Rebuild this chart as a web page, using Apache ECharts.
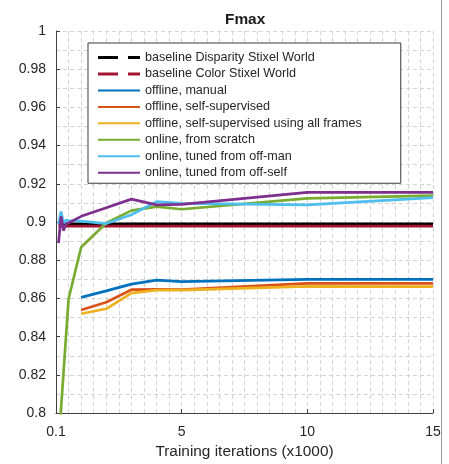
<!DOCTYPE html>
<html>
<head>
<meta charset="utf-8">
<script src="https://cdn.jsdelivr.net/npm/echarts@6/dist/echarts.min.js"></script>
<style>
html,body{margin:0;padding:0;background:#fff;}
#c{width:449px;height:464px;}
</style>
</head>
<body>
<div id="c"></div>
<script>
// ---- data ----
const seriesNames = [
  'baseline Disparity Stixel World',
  'baseline Color Stixel World',
  'offline, manual',
  'offline, self-supervised',
  'offline, self-supervised using all frames',
  'online, from scratch',
  'online, tuned from off-man',
  'online, tuned from off-self'
];
const baselineX = [0.1, 15];
const baselineDisparity = [0.8991, 0.8991];
const baselineColor = [0.8979, 0.8979];

const offlineX = [1, 2, 3, 4, 5, 10, 15];
const offlineManual = [0.8606, 0.8640, 0.8675, 0.8696, 0.8688, 0.8700, 0.8700];
const offlineSelf = [0.8540, 0.8580, 0.8646, 0.8648, 0.8646, 0.8679, 0.8679];
const offlineSelfAll = [0.8520, 0.8546, 0.8628, 0.8644, 0.8644, 0.8663, 0.8662];

const scratchX = [0.1, 0.5, 1, 2, 3, 4, 5, 10, 15];
const onlineScratch = [0.7830, 0.8597, 0.8868, 0.8995, 0.9060, 0.9081, 0.9067, 0.9124, 0.9138];

const tunedX = [0.1, 0.2, 0.3, 0.4, 0.5, 1, 2, 3, 4, 5, 10, 15];
const onlineOffMan = [0.8990, 0.9055, 0.8995, 0.9010, 0.9008, 0.9005, 0.8992, 0.9038, 0.9107, 0.9098, 0.9090, 0.9128];
const onlineOffSelf = [0.8890, 0.9030, 0.8955, 0.8990, 0.8995, 0.9030, 0.9075, 0.9120, 0.9090, 0.9093, 0.9155, 0.9155];

const xTickValues = [0, 5, 10, 15];
const xTickLabels = ['0.1', '5', '10', '15'];

const colors = ['#000000', '#A2142F', '#0072BD', '#D95319', '#EDB120', '#77AC30', '#4DBEEE', '#7E2F8E'];

// ---- build ----
function pairs(xs, ys) { return xs.map((x, i) => [x, ys[i]]); }
const seriesData = [
  pairs(baselineX, baselineDisparity),
  pairs(baselineX, baselineColor),
  pairs(offlineX, offlineManual),
  pairs(offlineX, offlineSelf),
  pairs(offlineX, offlineSelfAll),
  pairs(scratchX, onlineScratch),
  pairs(tunedX, onlineOffMan),
  pairs(tunedX, onlineOffSelf)
];

const FONT = '"Liberation Sans", Arial, Helvetica, sans-serif';
const TXT = '#262626';
const GRIDC = '#d4d4d4';

const chart = echarts.init(document.getElementById('c'), null, {renderer: 'canvas'});
chart.setOption({
  animation: false,
  backgroundColor: '#ffffff',
  title: {
    text: 'Fmax', left: 220, top: 7,
    textStyle: {fontFamily: FONT, fontSize: 15.4, fontWeight: 'bold', color: '#1a1a1a'}
  },
  grid: {left: 56, right: 16, top: 31, bottom: 47, containLabel: false},
  legend: {
    orient: 'vertical', left: 88, top: 43,
    itemWidth: 42, itemHeight: 14, itemGap: 3.46, itemTextGap: 5,
    padding: [8, 39, 4, 8.5],
    backgroundColor: '#ffffff', borderColor: '#3a3a3a', borderWidth: 1,
    itemStyle: {opacity: 0, borderWidth: 0},
    textStyle: {fontFamily: FONT, fontSize: 12.6, color: TXT},
    data: seriesNames.map((n, i) => i < 2
      ? {name: n, lineStyle: {type: [20, 10], width: 3}}
      : {name: n})
  },
  xAxis: {
    type: 'value', min: 0, max: 15, interval: 5,
    name: 'Training iterations (x1000)', nameLocation: 'middle', nameGap: 26,
    nameTextStyle: {fontFamily: FONT, fontSize: 15.4, color: TXT},
    axisLine: {show: true, lineStyle: {color: '#404040', width: 1}},
    axisTick: {show: true, inside: true, length: 4, lineStyle: {color: '#404040'}},
    axisLabel: {
      fontFamily: FONT, fontSize: 14, color: TXT, margin: 12,
      formatter: v => { const k = xTickValues.indexOf(v); return k >= 0 ? xTickLabels[k] : ''; }
    },
    splitLine: {show: true, lineStyle: {color: GRIDC, type: [4, 3], width: 1}},
    minorTick: {show: false, splitNumber: 10},
    minorSplitLine: {show: true, lineStyle: {color: GRIDC, type: [4, 3], width: 1}}
  },
  yAxis: {
    type: 'value', min: 0.8, max: 1, interval: 0.02,
    axisLine: {show: true, lineStyle: {color: '#404040', width: 1}},
    axisTick: {show: true, inside: true, length: 4, lineStyle: {color: '#404040'}},
    axisLabel: {
      fontFamily: FONT, fontSize: 14, color: TXT, margin: 10,
      formatter: v => String(+v.toFixed(2))
    },
    splitLine: {show: true, lineStyle: {color: GRIDC, type: [4, 3], width: 1}},
    minorTick: {show: false, splitNumber: 2},
    minorSplitLine: {show: true, lineStyle: {color: GRIDC, type: [4, 3], width: 1}}
  },
  graphic: [{
    type: 'line', silent: true,
    shape: {x1: 441.5, y1: 0, x2: 441.5, y2: 464},
    style: {stroke: '#9a9a9a', lineWidth: 1}
  }],
  series: seriesNames.map((n, i) => ({
    name: n, type: 'line', data: seriesData[i],
    symbol: 'none', showSymbol: false, clip: true,
    lineStyle: {color: colors[i], width: 2.7},
    itemStyle: {color: colors[i]},
    emphasis: {disabled: true}
  }))
});
</script>
</body>
</html>
